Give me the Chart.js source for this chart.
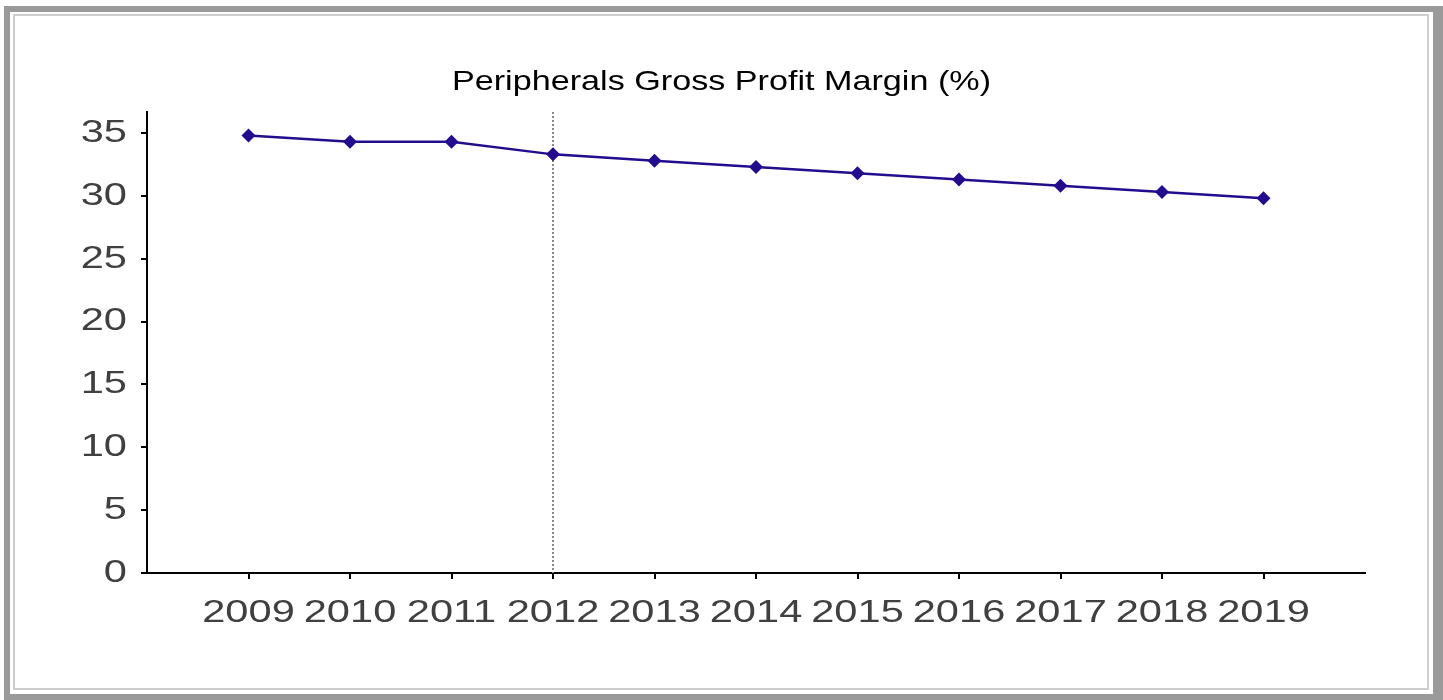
<!DOCTYPE html>
<html>
<head>
<meta charset="utf-8">
<script src="https://cdn.jsdelivr.net/npm/chart.js@4.4.1/dist/chart.umd.min.js"></script>
<style>
  html, body { margin: 0; padding: 0; background: #fff; width: 1443px; height: 700px; overflow: hidden; }
  #outer { position: absolute; left: 4px; top: 6px; right: 0; bottom: 0; border-style: solid; border-color: #9a9a9a; border-width: 6px 10px 6px 6px; background: #fff; box-sizing: border-box; }
  #inner { position: absolute; left: 13px; top: 14px; width: 1416px; height: 676px; border: 2px solid #cdcdcd; box-sizing: border-box; }
  #wrap { position: absolute; left: 0; top: 0; width: 1443px; height: 700px; }
</style>
</head>
<body>
<div id="outer"></div>
<div id="inner"></div>
<div id="wrap"><canvas id="c"></canvas></div>
<script>
const chartTitle = 'Peripherals Gross Profit Margin (%)';
const years = [2009, 2010, 2011, 2012, 2013, 2014, 2015, 2016, 2017, 2018, 2019];
const margins = [34.8, 34.3, 34.3, 33.3, 32.8, 32.3, 31.8, 31.3, 30.8, 30.3, 29.8];
const yTicks = [0, 5, 10, 15, 20, 25, 30, 35];
const markerYear = 2012;
const xRange = [2008, 2020];
const yRange = [0, 36.67];

// Text in the reference is horizontally stretched; draw library text with a horizontal scale.
function withStretch(obj, method, sx, dx) {
  if (!obj || obj['__w' + method]) return;
  const orig = obj[method];
  obj[method] = function (...args) {
    const ctx = this.ctx;
    ctx.fillText = function (text, x, y, maxWidth) {
      this.save();
      this.translate(x + dx, y);
      this.scale(sx, 1);
      if (maxWidth !== undefined && maxWidth !== null) {
        CanvasRenderingContext2D.prototype.fillText.call(this, text, 0, 0, maxWidth / sx);
      } else {
        CanvasRenderingContext2D.prototype.fillText.call(this, text, 0, 0);
      }
      this.restore();
    };
    try { return orig.apply(this, args); }
    finally { delete ctx.fillText; }
  };
  obj['__w' + method] = true;
}

const stretchPlugin = {
  id: 'stretch',
  beforeDraw(chart) {
    const tb = chart.titleBlock;
    const titleShift = chart.width / 2 - (tb.left + tb.right) / 2;
    withStretch(tb, 'draw', 1.22, titleShift);
    withStretch(chart.scales.x, 'drawLabels', 1.3, 0);
    withStretch(chart.scales.y, 'drawLabels', 1.3, 0);
  }
};

const markerPlugin = {
  id: 'marker',
  beforeDatasetsDraw(chart) {
    const { ctx, chartArea } = chart;
    const x = Math.round(chart.scales.x.getPixelForValue(markerYear));
    ctx.save();
    ctx.strokeStyle = '#8a8a8a';
    ctx.lineWidth = 2;
    ctx.setLineDash([2, 2]);
    ctx.beginPath();
    ctx.moveTo(x, chartArea.top);
    ctx.lineTo(x, chartArea.bottom);
    ctx.stroke();
    ctx.restore();
  }
};

new Chart(document.getElementById('c'), {
  type: 'line',
  data: {
    datasets: [{
      data: years.map((y, i) => ({ x: y, y: margins[i] })),
      borderColor: '#230c8e',
      backgroundColor: '#230c8e',
      borderWidth: 2.5,
      tension: 0,
      pointStyle: 'rectRot',
      pointRadius: 7,
      pointBorderWidth: 0,
      pointBackgroundColor: '#230c8e',
      fill: false
    }]
  },
  options: {
    responsive: true,
    maintainAspectRatio: false,
    animation: false,
    events: [],
    layout: { padding: { left: 0, right: 78, top: 0, bottom: 0 } },
    plugins: {
      legend: { display: false },
      tooltip: { enabled: false },
      title: {
        display: true,
        text: chartTitle,
        color: '#000',
        font: { family: '"Liberation Sans", Arial, sans-serif', size: 28, weight: 'normal' },
        padding: { top: 65.5, bottom: 12.9 }
      }
    },
    scales: {
      x: {
        type: 'linear',
        min: xRange[0],
        max: xRange[1],
        afterBuildTicks(scale) { scale.ticks = years.map(v => ({ value: v })); },
        afterFit(scale) { scale.height = 127; },
        grid: { drawOnChartArea: false, drawTicks: true, tickLength: 6, color: '#000', lineWidth: 2 },
        border: { display: true, color: '#000', width: 2 },
        ticks: {
          color: '#404040',
          padding: 14.5,
          maxRotation: 0,
          autoSkip: false,
          font: { family: '"Liberation Sans", Arial, sans-serif', size: 32 },
          callback: v => String(v)
        }
      },
      y: {
        min: yRange[0],
        max: yRange[1],
        afterBuildTicks(scale) { scale.ticks = yTicks.map(v => ({ value: v })); },
        afterFit(scale) { scale.width = 147; },
        grid: { drawOnChartArea: false, drawTicks: true, tickLength: 6, color: '#000', lineWidth: 2 },
        border: { display: true, color: '#000', width: 2 },
        ticks: {
          color: '#404040',
          padding: 14,
          autoSkip: false,
          font: { family: '"Liberation Sans", Arial, sans-serif', size: 32 },
          callback: v => String(v)
        }
      }
    }
  },
  plugins: [stretchPlugin, markerPlugin]
});
</script>
</body>
</html>
